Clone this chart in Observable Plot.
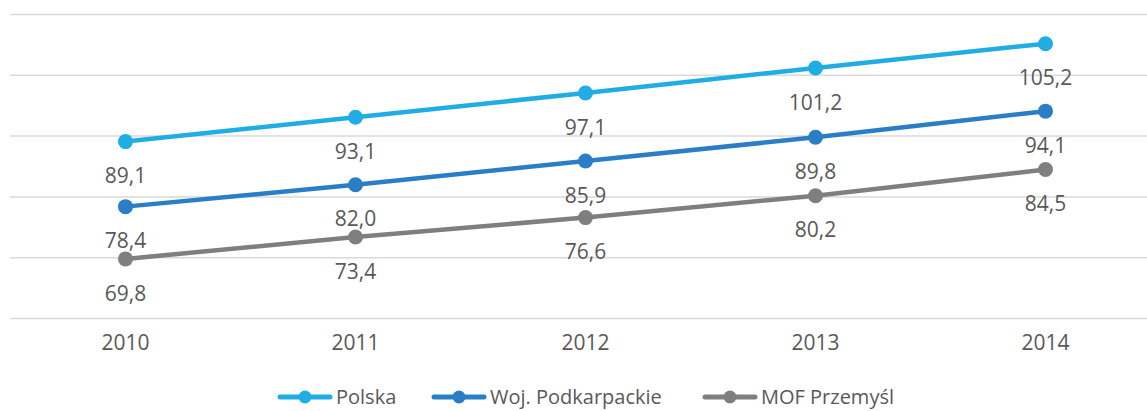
<!DOCTYPE html>
<html>
<head>
<meta charset="utf-8">
<script src="https://cdn.jsdelivr.net/npm/d3@7"></script>
<script src="https://cdn.jsdelivr.net/npm/@observablehq/plot@0.6"></script>
<style>
  html, body { margin: 0; padding: 0; background: #fff; overflow: hidden; }
  #chart svg { display: block; }
  #legend { position: relative; height: 26px; font-family: "Open Sans", sans-serif; font-size: 20px; color: #595959; }
  .item { position: absolute; top: 0px; display: flex; align-items: center; white-space: nowrap; line-height: 24px; }
  .item svg { display: block; margin-right: 3px; }
</style>
</head>
<body>
<div id="chart"></div>
<div id="legend"></div>
<script>
const years = ["2010", "2011", "2012", "2013", "2014"];
const polska = [89.1, 93.1, 97.1, 101.2, 105.2];
const podkarpackie = [78.4, 82.0, 85.9, 89.8, 94.1];
const mof = [69.8, 73.4, 76.6, 80.2, 84.5];
const seriesNames = ["Polska", "Woj. Podkarpackie", "MOF Przemyśl"];
const colors = ["#1FADE4", "#2A7EC5", "#7F7F7F"];
const yTicks = [60, 70, 80, 90, 100, 110];

const seriesValues = [polska, podkarpackie, mof];
const data = seriesNames.flatMap((s, i) => years.map((y, j) => ({series: s, year: y, value: seriesValues[i][j]})));
const fmt = v => v.toFixed(1).replace(".", ",");
const font = "Open Sans, sans-serif";

const chart = Plot.plot({
  width: 1147,
  height: 385,
  marginLeft: 10,
  marginRight: 0,
  marginTop: 14,
  marginBottom: 67,
  style: {fontFamily: font, background: "white"},
  x: {type: "point", domain: years, range: [125, 1045], padding: 0, axis: null},
  y: {domain: [60, 110], axis: null},
  color: {domain: seriesNames, range: colors},
  marks: [
    Plot.ruleY(yTicks, {stroke: "#D9D9D9", strokeWidth: 1.5}),
    Plot.text(years, {x: d => d, frameAnchor: "bottom", dy: 31, fontSize: 21, fill: "#595959", fontFamily: font}),
    Plot.line(data, {x: "year", y: "value", z: "series", stroke: "series", strokeWidth: 4.5}),
    Plot.dot(data, {x: "year", y: "value", fill: "series", r: 7.5}),
    Plot.text(data, {x: "year", y: "value", text: d => fmt(d.value), dy: 35, fontSize: 21, fill: "#595959", fontFamily: font})
  ]
});
document.getElementById("chart").appendChild(chart);

const legend = document.getElementById("legend");
const lefts = [277, 431, 702];
seriesNames.forEach((s, i) => {
  const item = document.createElement("div");
  item.className = "item";
  item.style.left = lefts[i] + "px";
  item.innerHTML = `<svg width="56" height="16"><line x1="3" y1="8" x2="53" y2="8" stroke="${colors[i]}" stroke-width="5" stroke-linecap="round"/><circle cx="28" cy="8" r="6.5" fill="${colors[i]}"/></svg><span>${s}</span>`;
  legend.appendChild(item);
});
</script>
</body>
</html>
